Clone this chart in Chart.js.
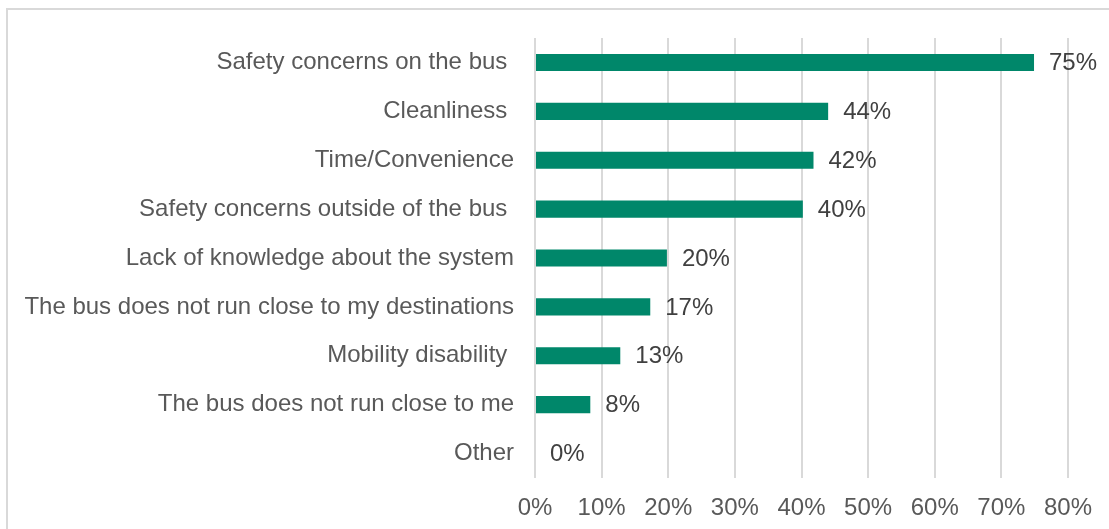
<!DOCTYPE html>
<html>
<head>
<meta charset="utf-8">
<script src="https://cdn.jsdelivr.net/npm/chart.js@4.4.1/dist/chart.umd.min.js"></script>
<style>
  body { margin: 0; background: #fff; }
  .frame { position: absolute; left: 6px; top: 8px; width: 1200px; height: 600px; border: 2px solid #d9d9d9; }
  .wrap { position: absolute; left: 0; top: 0; width: 1109px; height: 529px; }
</style>
</head>
<body>
<div class="frame"></div>
<div class="wrap"><canvas id="grafico"></canvas></div>
<script>
const categorias = [
    'Safety concerns on the bus ',
    'Cleanliness ',
    'Time/Convenience',
    'Safety concerns outside of the bus ',
    'Lack of knowledge about the system',
    'The bus does not run close to my destinations',
    'Mobility disability ',
    'The bus does not run close to me',
    'Other'
];
const valores = [74.9, 44, 41.8, 40.2, 19.8, 17.3, 12.8, 8.3, 0];
const ticksX = [0, 10, 20, 30, 40, 50, 60, 70, 80];

const corBarra = '#00876a';
const fonte = "'Liberation Sans', Arial, sans-serif";

const rotulosBarras = {
    id: 'rotulosBarras',
    afterDatasetsDraw(chart) {
        const ctx = chart.ctx;
        const meta = chart.getDatasetMeta(0);
        ctx.save();
        ctx.font = '24px ' + fonte;
        ctx.fillStyle = '#404040';
        ctx.textAlign = 'left';
        ctx.textBaseline = 'middle';
        meta.data.forEach((bar, i) => {
            ctx.fillText(Math.round(valores[i]) + '%', bar.x + 15, bar.y + 1);
        });
        ctx.restore();
    }
};

new Chart(document.getElementById('grafico'), {
    type: 'bar',
    data: {
        labels: categorias,
        datasets: [{
            data: valores,
            backgroundColor: corBarra,
            borderWidth: 0,
            barPercentage: 0.7,
            categoryPercentage: 0.5
        }]
    },
    options: {
        indexAxis: 'y',
        responsive: true,
        maintainAspectRatio: false,
        animation: false,
        layout: { padding: { top: 38, right: 41, left: 0, bottom: 0 } },
        scales: {
            x: {
                min: 0, max: 80,
                afterBuildTicks: s => { s.ticks = ticksX.map(v => ({ value: v })); },
                afterFit: s => { s.height = 51; },
                ticks: {
                    callback: v => v + '%',
                    color: '#595959',
                    font: { family: fonte, size: 24 },
                    padding: 16
                },
                grid: { color: '#d9d9d9', lineWidth: 2, drawTicks: false },
                border: { display: false }
            },
            y: {
                afterFit: s => { s.width = 535; },
                ticks: {
                    color: '#595959',
                    font: { family: fonte, size: 24 },
                    padding: 21,
                    autoSkip: false
                },
                grid: { display: false, drawTicks: false },
                border: { display: false }
            }
        },
        plugins: {
            legend: { display: false },
            tooltip: { enabled: false }
        }
    },
    plugins: [rotulosBarras]
});
</script>
</body>
</html>
